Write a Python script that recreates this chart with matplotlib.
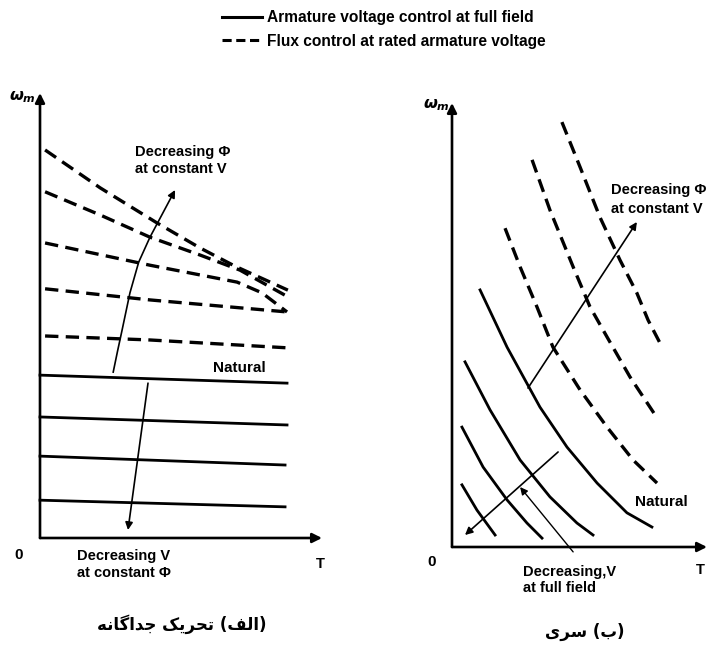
import matplotlib
matplotlib.use("Agg")
import matplotlib.pyplot as plt
from matplotlib.lines import Line2D

plt.rcParams['font.family'] = ['Liberation Sans', 'DejaVu Sans']
plt.rcParams['font.weight'] = 'bold'

# ---------------- data (arbitrary units, T on x, omega_m on y) ----------------
# (a) separately excited: armature-voltage control (solid)
sep_solid_T = [[0.0, 8.76], [0.0, 8.76], [0.0, 8.69], [0.0, 8.69]]
sep_solid_w = [[3.66, 3.48], [2.72, 2.54], [1.84, 1.64], [0.85, 0.70]]
# (a) flux control (dashed)
sep_dash_T = [[0.18, 2.13, 4.15, 5.67, 6.91, 8.79],
              [0.18, 2.13, 3.90, 5.67, 7.09, 8.79],
              [0.18, 3.90, 6.99, 7.87, 8.76],
              [0.18, 3.90, 8.76],
              [0.18, 3.90, 8.87]]
sep_dash_w = [[8.72, 7.87, 7.08, 6.52, 6.11, 5.57],
              [7.78, 7.26, 6.76, 6.36, 6.02, 5.42],
              [6.63, 6.13, 5.75, 5.51, 5.08],
              [5.60, 5.35, 5.08],
              [4.54, 4.45, 4.27]]
sep_arrow_up_T = [2.59, 2.75, 2.91, 3.19, 3.50, 3.90, 4.79]
sep_arrow_up_w = [3.71, 4.20, 4.67, 5.51, 6.20, 6.76, 7.82]
sep_arrow_down_T = [3.83, 3.12]
sep_arrow_down_w = [3.48, 0.18]

# (b) series: armature-voltage control (solid)
ser_solid_T = [[1.10, 2.16, 3.45, 4.51, 5.69, 6.86, 7.84],
               [0.51, 1.49, 2.67, 3.84, 4.90, 5.53],
               [0.39, 1.22, 2.16, 2.94, 3.53],
               [0.39, 0.98, 1.69]]
ser_solid_w = [[5.79, 4.50, 3.15, 2.25, 1.44, 0.77, 0.45],
               [4.17, 3.09, 1.96, 1.13, 0.54, 0.27],
               [2.70, 1.80, 1.06, 0.54, 0.20],
               [1.40, 0.83, 0.27]]
# (b) flux control (dashed)
ser_dash_T = [[2.08, 2.67, 3.33, 3.96, 5.02, 6.08, 7.10, 8.04],
              [3.14, 3.84, 4.75, 5.41, 6.08, 6.98, 8.04],
              [4.31, 5.02, 5.80, 6.59, 7.25, 7.69, 8.16]]
ser_dash_w = [[7.18, 6.31, 5.41, 4.50, 3.54, 2.70, 1.96, 1.44],
              [8.72, 7.59, 6.31, 5.41, 4.73, 3.83, 2.91],
              [9.57, 8.56, 7.43, 6.46, 5.72, 5.11, 4.59]]
ser_arrow_up_T = [2.98, 7.25]
ser_arrow_up_w = [3.58, 7.32]
ser_arrow_down_T = [4.16, 0.51]
ser_arrow_down_w = [2.14, 0.27]
ser_pointer_T = [4.75, 2.67]
ser_pointer_w = [-0.11, 1.35]

legend_labels = ["Armature voltage control at full field",
                 "Flux control at rated armature voltage"]
# Persian captions "(الف) تحریک جداگانه" and "(ب) سری",
# shaped with Arabic presentation forms and laid out in visual (left-to-right) order
cap_a = "\uFEEA\uFEE7\uFE8E\uFB94\uFE8D\uFEAA\uFE9F \uFB8F\uFBFE\uFEAE\uFEA4\uFE97 (\uFED2\uFEDF\uFE8D)"
cap_b = "\uFBFC\uFEAE\uFEB3 (\uFE8F)"

# ---------------- figure ----------------
W, H = 707, 650
fig = plt.figure(figsize=(W / 100, H / 100), dpi=100)

def ax_at(x0, y0, x1, y1):
    a = fig.add_axes([x0 / W, 1 - y0 / H, (x1 - x0) / W, (y0 - y1) / H])
    a.set_xlim(0, 10)
    a.set_ylim(0, 10)
    a.axis('off')
    return a

axL = ax_at(40, 538, 322, 93)
axR = ax_at(452, 547, 707, 103)

SOLID_LW = 2.0
DASH_LW = 2.4
FS = 10.5

def axes_arrows(ax, xend):
    for xy in [(0, 10), (xend, 0)]:
        ax.annotate("", xy=xy, xytext=(0, 0),
                    arrowprops=dict(arrowstyle='-|>', lw=1.9, color='black',
                                    mutation_scale=14, shrinkA=0, shrinkB=0),
                    annotation_clip=False)

def arrow(ax, xs, ys, lw=1.2):
    if len(xs) > 2:
        ax.plot(xs[:-1], ys[:-1], color='black', lw=lw, clip_on=False,
                solid_capstyle='butt')
    ax.annotate("", xy=(xs[-1], ys[-1]), xytext=(xs[-2], ys[-2]),
                arrowprops=dict(arrowstyle='-|>', lw=lw, color='black',
                                mutation_scale=11, shrinkA=0, shrinkB=0),
                annotation_clip=False)

# ---- left panel ----
axes_arrows(axL, 10)
for xs, ys in zip(sep_solid_T, sep_solid_w):
    axL.plot(xs, ys, color='black', lw=SOLID_LW, clip_on=False)
for xs, ys in zip(sep_dash_T, sep_dash_w):
    axL.plot(xs, ys, color='black', lw=DASH_LW, dashes=(4, 2.2), clip_on=False)
arrow(axL, sep_arrow_up_T, sep_arrow_up_w)
arrow(axL, sep_arrow_down_T, sep_arrow_down_w)

axL.text(3.37, 8.67, "Decreasing \u03a6", fontsize=FS, va='center', ha='left')
axL.text(3.37, 8.30, "at constant V", fontsize=FS, va='center', ha='left')
axL.text(6.15, 3.82, "Natural", fontsize=FS + 0.5, va='center', ha='left')
axL.text(1.31, -0.40, "Decreasing V", fontsize=FS, va='center', ha='left', clip_on=False)
axL.text(1.31, -0.79, "at constant \u03a6", fontsize=FS, va='center', ha='left', clip_on=False)
axL.text(-0.75, -0.38, "0", fontsize=FS + 0.5, va='center', ha='center')
axL.text(9.95, -0.58, "T", fontsize=FS, va='center', ha='center')
axL.text(-0.15, 9.9, r"$\omega_m$", fontsize=FS + 1, va='center', ha='right')

# ---- right panel ----
axes_arrows(axR, 10)
for xs, ys in zip(ser_solid_T, ser_solid_w):
    axR.plot(xs, ys, color='black', lw=SOLID_LW, clip_on=False)
for xs, ys in zip(ser_dash_T, ser_dash_w):
    axR.plot(xs, ys, color='black', lw=DASH_LW, dashes=(4, 2.2), clip_on=False)
arrow(axR, ser_arrow_up_T, ser_arrow_up_w)
arrow(axR, ser_arrow_down_T, ser_arrow_down_w)
arrow(axR, ser_pointer_T, ser_pointer_w, lw=1.0)

axR.text(6.25, 8.04, "Decreasing \u03a6", fontsize=FS, va='center', ha='left', clip_on=False)
axR.text(6.25, 7.62, "at constant V", fontsize=FS, va='center', ha='left', clip_on=False)
axR.text(7.18, 1.01, "Natural", fontsize=FS + 0.5, va='center', ha='left')
axR.text(2.78, -0.56, "Decreasing,V", fontsize=FS, va='center', ha='left', clip_on=False)
axR.text(2.78, -0.93, "at full field", fontsize=FS, va='center', ha='left', clip_on=False)
axR.text(-0.78, -0.34, "0", fontsize=FS + 0.5, va='center', ha='center')
axR.text(9.75, -0.52, "T", fontsize=FS, va='center', ha='center')
axR.text(-0.1, 9.95, r"$\omega_m$", fontsize=FS + 1, va='center', ha='right')

# ---- captions ----
fig.text(182 / W, 1 - 624 / H, cap_a, fontsize=12, ha='center', va='center',
         family=['DejaVu Sans'], weight='bold')
fig.text(585 / W, 1 - 632 / H, cap_b, fontsize=12, ha='center', va='center',
         family=['DejaVu Sans'], weight='bold')

# ---- legend ----
handles = [Line2D([0], [0], color='black', lw=2.2),
           Line2D([0], [0], color='black', lw=2.2, dashes=(3, 1.5))]
fig.legend(handles, legend_labels, loc='upper left',
           bbox_to_anchor=(208 / W, 1 + 4 / H), frameon=False,
           handlelength=2.6, handletextpad=0.3, labelspacing=0.55,
           borderpad=0.4, prop={'weight': 'bold', 'size': 11.2})

fig.savefig("out.png", dpi=100)
